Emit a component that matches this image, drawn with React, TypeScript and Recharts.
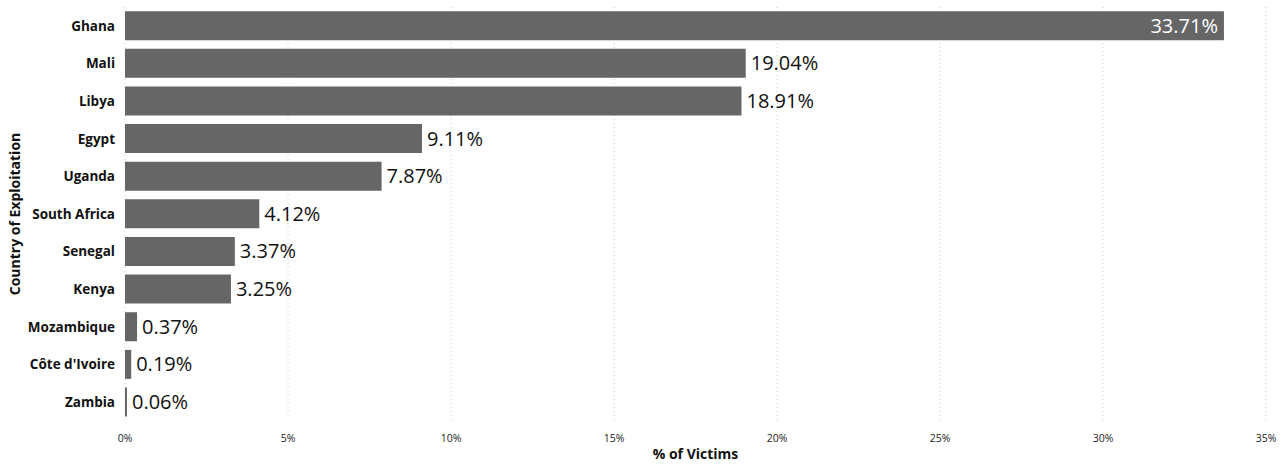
import React from "react";
import { BarChart, Bar, XAxis, YAxis, CartesianGrid, LabelList } from "recharts";

const countries = [
  "Ghana",
  "Mali",
  "Libya",
  "Egypt",
  "Uganda",
  "South Africa",
  "Senegal",
  "Kenya",
  "Mozambique",
  "Côte d'Ivoire",
  "Zambia",
];
const victimsPct = [33.71, 19.04, 18.91, 9.11, 7.87, 4.12, 3.37, 3.25, 0.37, 0.19, 0.06];
const xTicks = [0, 5, 10, 15, 20, 25, 30, 35];

const data = countries.map((c, i) => ({ country: c, pct: victimsPct[i] }));

const FONT = "'Open Sans', 'Noto Sans', sans-serif";

function ValueLabel(props: any) {
  const { x, y, width, height, value } = props;
  const inside = value > 30;
  const tx = inside ? x + width - 6 : x + width + 5;
  return (
    <text
      x={tx}
      y={y + height / 2}
      dy={7}
      textAnchor={inside ? "end" : "start"}
      fill={inside ? "#ffffff" : "#111111"}
      fontSize={20}
      fontFamily={FONT}
      fontWeight={400}
    >
      {value.toFixed(2)}%
    </text>
  );
}

export default function App() {
  return (
    <div style={{ position: "absolute", left: 0, top: 0, background: "#fff" }}>
      <BarChart
        width={1287}
        height={465}
        data={data}
        layout="vertical"
        margin={{ top: 7, right: 21, bottom: 14, left: 25 }}
        barCategoryGap="11%"
      >
        <CartesianGrid horizontal={false} stroke="#d0d0d0" strokeDasharray="1 3" />
        <XAxis
          type="number"
          domain={[0, 35]}
          ticks={xTicks}
          height={30}
          tickFormatter={(v) => `${v}%`}
          axisLine={false}
          tickLine={false}
          tick={{ fontSize: 10.5, fill: "#222", fontFamily: FONT }}
          tickMargin={8}
          label={{
            value: "% of Victims",
            position: "insideBottom",
            offset: -8,
            style: { fontSize: 14, fontWeight: 700, fill: "#111", fontFamily: FONT },
          }}
        />
        <YAxis
          type="category"
          dataKey="country"
          width={100}
          axisLine={false}
          tickLine={false}
          tickMargin={4}
          tick={{ fontSize: 13.5, fontWeight: 700, fill: "#111", fontFamily: FONT }}
          label={{
            value: "Country of Exploitation",
            angle: -90,
            position: "insideLeft",
            offset: -10,
            style: { textAnchor: "middle", fontSize: 14, fontWeight: 700, fill: "#111", fontFamily: FONT },
          }}
        />
        <Bar dataKey="pct" fill="#666666" isAnimationActive={false}>
          <LabelList dataKey="pct" content={ValueLabel} />
        </Bar>
      </BarChart>
    </div>
  );
}
